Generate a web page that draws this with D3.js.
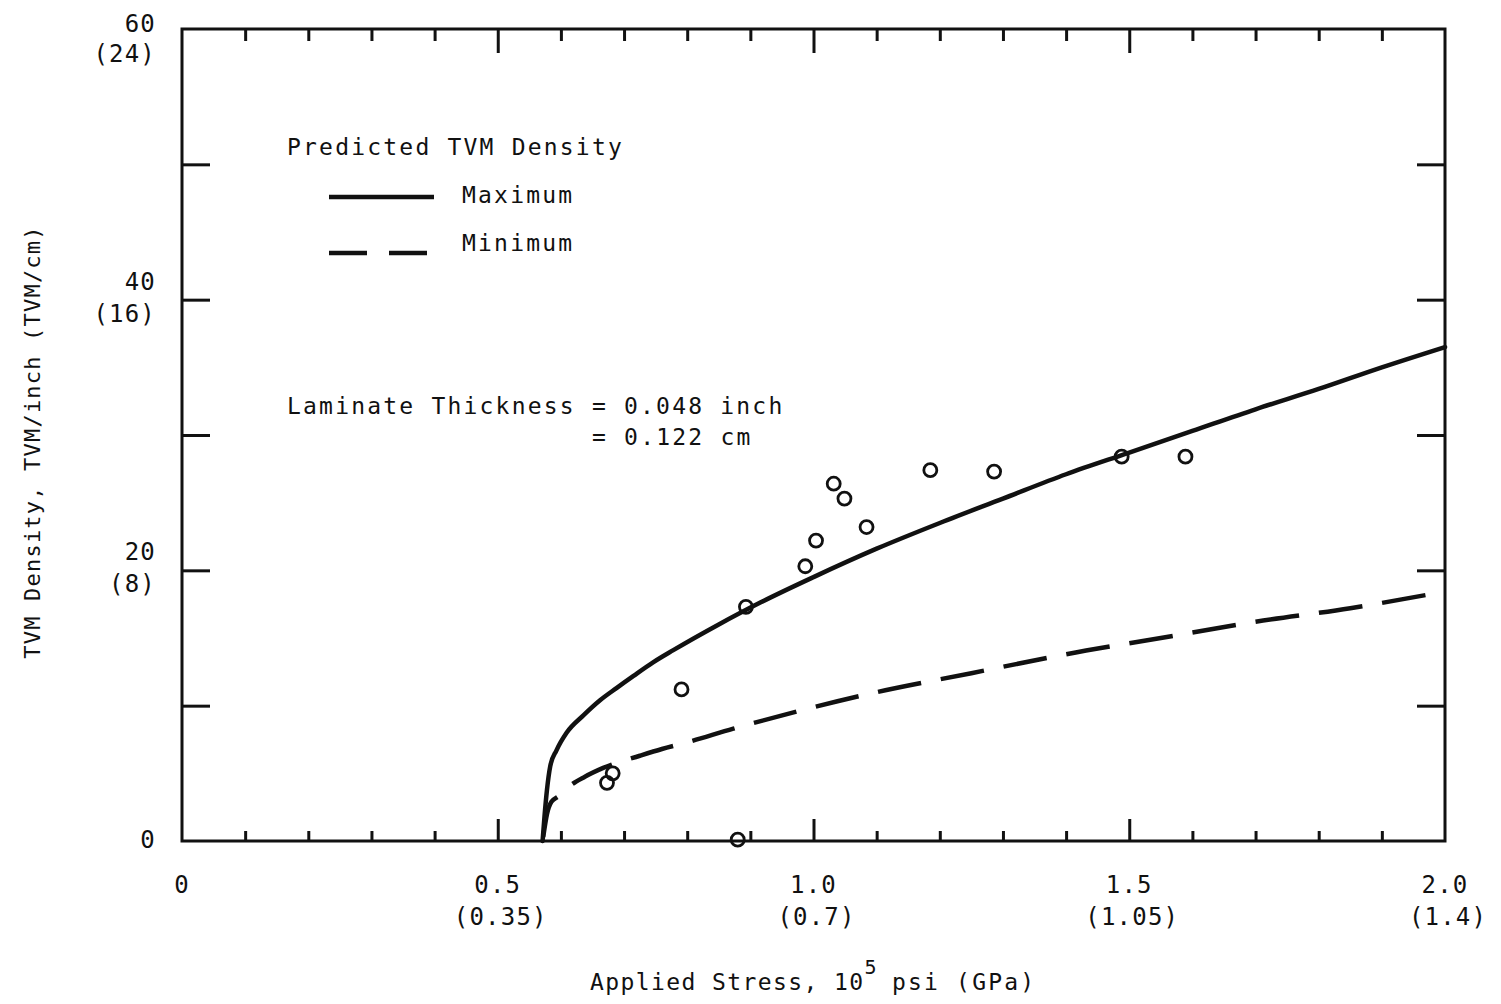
<!DOCTYPE html>
<html lang="en">
  <head>
    <meta charset="UTF-8" />
    <title>TVM Density</title>
    <style>
      body { margin: 0; background: #fff; }
      svg { display: block; }
      text { font-family: "DejaVu Sans Mono", "Liberation Mono", monospace; fill: #111; }
    </style>
  </head>
  <body>
    <script src="https://d3js.org/d3.v7.min.js"></script>
    <script>

// applied stress (10^5 psi) vs TVM density (TVM/inch)
var maxX = [0.571, 0.574, 0.578, 0.583, 0.593, 0.609, 0.636, 0.662, 0.688, 0.715, 0.746, 0.778, 0.85, 0.915, 1.0, 1.1, 1.2, 1.3, 1.4, 1.5, 1.6, 1.7, 1.8, 1.9, 2.0];
var maxY = [0, 1.8, 3.8, 5.5, 6.7, 8.0, 9.3, 10.4, 11.3, 12.2, 13.2, 14.1, 16.0, 17.6, 19.5, 21.6, 23.5, 25.3, 27.1, 28.7, 30.3, 31.9, 33.4, 35.0, 36.5];

var minX = [0.572, 0.578, 0.585, 0.596, 0.612, 0.638, 0.667, 0.725, 0.760, 0.797, 0.873, 0.976, 1.10, 1.25, 1.40, 1.55, 1.70, 1.85, 1.973];
var minY = [0.3, 2.0, 2.9, 3.3, 4.0, 4.75, 5.4, 6.3, 6.8, 7.25, 8.3, 9.6, 11.0, 12.4, 13.8, 15.0, 16.2, 17.2, 18.2];

var ptX = [0.673, 0.682, 0.791, 0.880, 0.893, 0.987, 1.004, 1.032, 1.049, 1.084, 1.185, 1.286, 1.488, 1.589];
var ptY = [4.3, 5.0, 11.2, 0.1, 17.3, 20.3, 22.2, 26.4, 25.3, 23.2, 27.4, 27.3, 28.4, 28.4];

var xTickLabels = [
  {v: 0, a: "0", b: ""},
  {v: 0.5, a: "0.5", b: "(0.35)"},
  {v: 1.0, a: "1.0", b: "(0.7)"},
  {v: 1.5, a: "1.5", b: "(1.05)"},
  {v: 2.0, a: "2.0", b: "(1.4)"}
];
var yTickLabels = [
  {v: 0, a: "0", b: ""},
  {v: 20, a: "20", b: "(8)"},
  {v: 40, a: "40", b: "(16)"},
  {v: 60, a: "60", b: "(24)"}
];

var width = 1501, height = 1004;
var svg = d3.select("body").append("svg")
  .attr("width", width)
  .attr("height", height);

var x = d3.scaleLinear().domain([0, 2]).range([182, 1445]);
var y = d3.scaleLinear().domain([0, 60]).range([841, 29]);

var minorX = d3.range(1, 20).map(function(i){ return i / 10; }).filter(function(v){ return Math.abs(v * 2 - Math.round(v * 2)) > 1e-6; });
var majorX = [0.5, 1.0, 1.5];
var yTicks = [10, 20, 30, 40, 50];

function styleAxis(g) {
  g.select(".domain").remove();
  g.selectAll(".tick line").attr("stroke", "#111").attr("stroke-width", 3);
  g.selectAll(".tick text").remove();
}

// bottom ticks
svg.append("g").attr("transform", "translate(0," + y(0) + ")")
  .call(d3.axisBottom(x).tickValues(minorX).tickSize(-10)).call(styleAxis);
svg.append("g").attr("transform", "translate(0," + y(0) + ")")
  .call(d3.axisBottom(x).tickValues(majorX).tickSize(-22)).call(styleAxis);
// top ticks
svg.append("g").attr("transform", "translate(0," + y(60) + ")")
  .call(d3.axisTop(x).tickValues(minorX).tickSize(-12)).call(styleAxis);
svg.append("g").attr("transform", "translate(0," + y(60) + ")")
  .call(d3.axisTop(x).tickValues(majorX).tickSize(-24)).call(styleAxis);
// left / right ticks
svg.append("g").attr("transform", "translate(" + x(0) + ",0)")
  .call(d3.axisLeft(y).tickValues(yTicks).tickSize(-28)).call(styleAxis);
svg.append("g").attr("transform", "translate(" + x(2) + ",0)")
  .call(d3.axisRight(y).tickValues(yTicks).tickSize(-28)).call(styleAxis);

// frame
svg.append("rect")
  .attr("x", x(0)).attr("y", y(60))
  .attr("width", x(2) - x(0)).attr("height", y(0) - y(60))
  .attr("fill", "none").attr("stroke", "#111").attr("stroke-width", 3);

// tick labels
var xl = svg.append("g").attr("font-size", 24).attr("letter-spacing", 1.2).attr("text-anchor", "middle");
xTickLabels.forEach(function(d) {
  xl.append("text").attr("x", x(d.v)).attr("y", 893).text(d.a);
  if (d.b) xl.append("text").attr("x", x(d.v) + 3).attr("y", 925).text(d.b);
});

var yl = svg.append("g").attr("font-size", 24).attr("letter-spacing", 1.2).attr("text-anchor", "end");
yTickLabels.forEach(function(d) {
  // top label sits lower so it stays inside the page
  var up = d.v === 60 ? -3 : 10, down = d.v === 60 ? 33 : 22;
  if (d.b) {
    yl.append("text").attr("x", 156).attr("y", y(d.v) - up).text(d.a);
    yl.append("text").attr("x", 156).attr("y", y(d.v) + down).text(d.b);
  } else {
    yl.append("text").attr("x", 156).attr("y", y(d.v) + 7).text(d.a);
  }
});

// axis titles
var xt = svg.append("text")
  .attr("x", 590).attr("y", 990)
  .attr("font-size", 23).attr("letter-spacing", 1.4);
xt.append("tspan").text("Applied Stress, 10");
xt.append("tspan").attr("dy", -16).attr("font-size", 20).text("5");
xt.append("tspan").attr("dy", 16).attr("dx", 14).attr("letter-spacing", 2.2).text("psi (GPa)");

svg.append("text")
  .attr("transform", "translate(40,442) rotate(-90)")
  .attr("text-anchor", "middle")
  .attr("font-size", 22).attr("letter-spacing", 1.2)
  .text("TVM Density, TVM/inch (TVM/cm)");

// curves
var line = d3.line()
  .x(function(d){ return x(d[0]); })
  .y(function(d){ return y(d[1]); })
  .curve(d3.curveMonotoneX);

svg.append("path")
  .datum(d3.zip(maxX, maxY))
  .attr("d", line)
  .attr("fill", "none").attr("stroke", "#111").attr("stroke-width", 4.5)
  .attr("stroke-linecap", "round");

svg.append("path")
  .datum(d3.zip(minX, minY))
  .attr("d", line)
  .attr("fill", "none").attr("stroke", "#111").attr("stroke-width", 4.5)
  .attr("stroke-dasharray", "44,20");

// data points
svg.append("g").selectAll("circle")
  .data(d3.zip(ptX, ptY))
  .enter().append("circle")
  .attr("cx", function(d){ return x(d[0]); })
  .attr("cy", function(d){ return y(d[1]); })
  .attr("r", 6.5)
  .attr("fill", "none").attr("stroke", "#111").attr("stroke-width", 2.8);

// legend
var lg = svg.append("g").attr("font-size", 23).attr("letter-spacing", 2.2);
lg.append("text").attr("x", 287).attr("y", 155).text("Predicted TVM Density");
lg.append("line").attr("x1", 329).attr("x2", 434).attr("y1", 197).attr("y2", 197)
  .attr("stroke", "#111").attr("stroke-width", 4.5);
lg.append("text").attr("x", 462).attr("y", 203).text("Maximum");
lg.append("line").attr("x1", 329).attr("x2", 434).attr("y1", 253).attr("y2", 253)
  .attr("stroke", "#111").attr("stroke-width", 4.5).attr("stroke-dasharray", "38,22");
lg.append("text").attr("x", 462).attr("y", 251).text("Minimum");

// annotation
var an = svg.append("g").attr("font-size", 23).attr("letter-spacing", 2.2);
an.append("text").attr("x", 287).attr("y", 414).text("Laminate Thickness = 0.048 inch");
an.append("text").attr("x", 592).attr("y", 445).text("= 0.122 cm");

    </script>
  </body>
</html>
